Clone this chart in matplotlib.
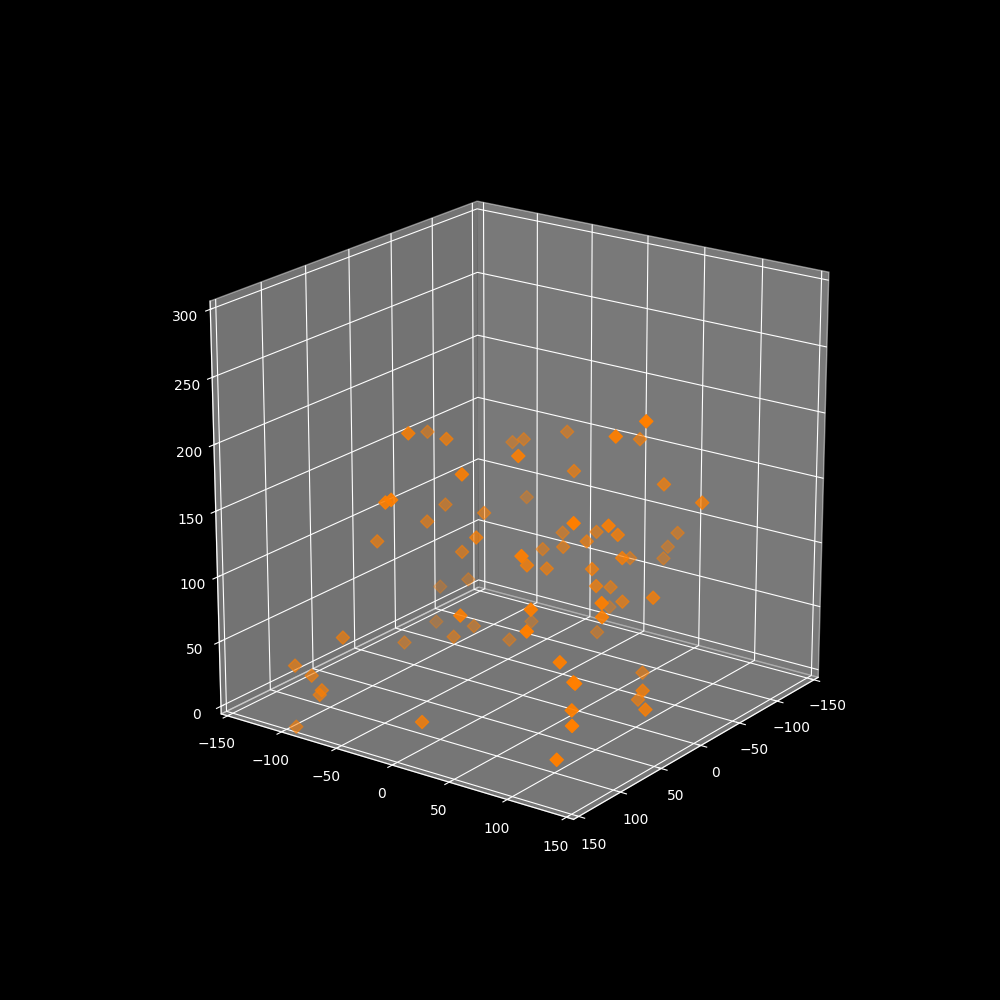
import matplotlib
matplotlib.use('Agg')
import matplotlib.pyplot as plt

plt.style.use('dark_background')

x = [108, 65, 32, -10, -8, 14, 9, 2, 120, 75, 36, 35, -33, -68, -64, 33, 35, -3, 11, 30,
     97, -48, 85, -21, 127, -12, 147, 18, 125, 113, 27, 68, -23, -12, 88, 114, 155, 155, 34, -35,
     36, 61, 101, 75, 53, 7, 4, 142, 13, 30, 57, 63, 155, 155, 155, 155, 155, 134, 155, 6,
     -32, 60, -28, 60, -13, -9, -58, 123, 138, 129, 147, 155, 1, 52, 24, 69]
y = [121, 120, 105, 28, 59, 66, 42, 19, 86, 58, 47, 111, 71, 80, 79, 84, 89, 75, 95, 134,
     137, 43, 129, 51, 99, -1, 110, 1, 122, -16, -65, -17, -26, -8, 60, 31, -4, 1, -44, -22,
     -8, -40, -54, 14, -15, -44, -72, 50, -69, -22, -20, -60, -87, -72, -63, -65, -87, -60, 26, 49,
     16, 122, 82, 147, 113, 148, 95, 132, 144, 135, 148, 141, 106, 141, 118, 155]
z = [187, 172, 152, 124, 132, 133, 122, 113, 159, 132, 115, 137, 107, 107, 99, 122, 111, 95, 93, 111,
     129, 58, 113, 49, 125, 48, 118, 44, 91, 225, 192, 208, 178, 187, 217, 205, 189, 192, 143, 133,
     145, 139, 133, 143, 119, 77, 64, 114, 40, 53, 54, 42, 48, 44, 35, 31, 1, 69, 33, 180,
     192, 236, 201, 252, 178, 173, 124, 78, 85, 60, 58, 34, 38, 50, 28, 45]

fig = plt.figure(figsize=(10, 10))
ax = fig.add_subplot(projection='3d')
ax.view_init(elev=20, azim=36)
ax.scatter(x, y, z, c='#ff7f00', marker='D', s=45)

ax.set_xlim(-156, 156)
ax.set_ylim(-156, 156)
ax.set_zlim(-6, 306)
ax.set_box_aspect((1, 1, 1), zoom=0.95)

plt.savefig('out.png', dpi=100)
